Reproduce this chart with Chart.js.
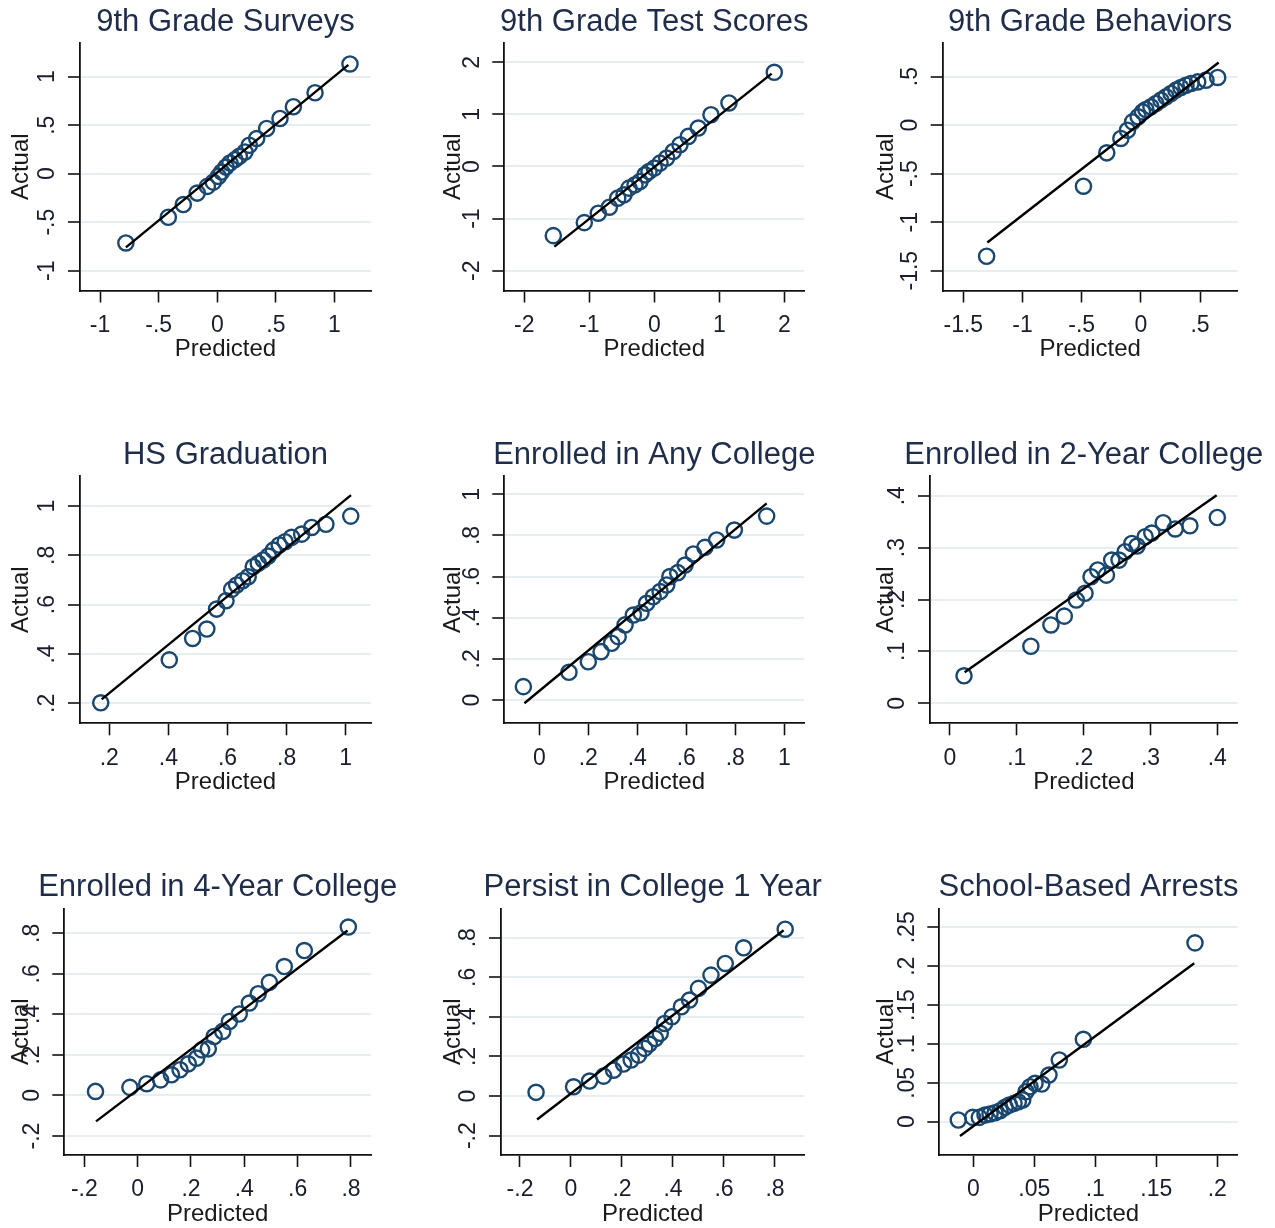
<!DOCTYPE html>
<html>
<head>
<meta charset="utf-8">
<script src="https://cdn.jsdelivr.net/npm/chart.js@4.4.0/dist/chart.umd.min.js"></script>
<style>
html,body{margin:0;padding:0;background:#fff;}
#wrap{position:relative;width:1275px;height:1228px;overflow:hidden;background:#fff;}
#wrap canvas{position:absolute;}
</style>
</head>
<body>
<div id="wrap"></div>
<script>
// ---------------- DATA ----------------
const panelTitles = ["9th Grade Surveys","9th Grade Test Scores","9th Grade Behaviors","HS Graduation","Enrolled in Any College","Enrolled in 2-Year College","Enrolled in 4-Year College","Persist in College 1 Year","School-Based Arrests"];
const xAxisTitle = "Predicted";
const yAxisTitle = "Actual";

// 1. 9th Grade Surveys
const surveysPred = [-0.78,-0.418,-0.29,-0.171,-0.085,-0.034,0.009,0.037,0.074,0.108,0.151,0.188,0.236,0.273,0.336,0.421,0.535,0.649,0.834,1.132];
const surveysActual = [-0.714,-0.449,-0.318,-0.2,-0.131,-0.087,-0.028,0.017,0.068,0.11,0.145,0.179,0.224,0.293,0.362,0.466,0.569,0.69,0.834,1.131];
const surveysFitPred = [-0.78,1.118];
const surveysFitActual = [-0.76,1.121];
const surveysXTicks = [-1,-0.5,0,0.5,1];
const surveysXLabels = ["-1","-.5","0",".5","1"];
const surveysYTicks = [-1,-0.5,0,0.5,1];
const surveysYLabels = ["-1","-.5","0",".5","1"];

// 2. 9th Grade Test Scores
const testPred = [-1.554,-1.077,-0.862,-0.692,-0.563,-0.466,-0.389,-0.297,-0.22,-0.143,-0.082,0,0.088,0.19,0.292,0.395,0.523,0.677,0.872,1.149,1.846];
const testActual = [-1.327,-1.077,-0.896,-0.781,-0.608,-0.544,-0.415,-0.352,-0.288,-0.16,-0.096,-0.031,0.065,0.162,0.288,0.417,0.577,0.738,0.994,1.219,1.808];
const testFitPred = [-1.538,1.806];
const testFitActual = [-1.538,1.783];
const testXTicks = [-2,-1,0,1,2];
const testXLabels = ["-2","-1","0","1","2"];
const testYTicks = [-2,-1,0,1,2];
const testYLabels = ["-2","-1","0","1","2"];

// 3. 9th Grade Behaviors
const behavPred = [-1.303,-0.485,-0.288,-0.169,-0.113,-0.07,-0.023,0.014,0.042,0.085,0.127,0.169,0.212,0.254,0.296,0.338,0.381,0.423,0.48,0.55,0.649];
const behavActual = [-1.351,-0.629,-0.285,-0.137,-0.052,0.034,0.086,0.137,0.162,0.189,0.224,0.258,0.292,0.327,0.361,0.389,0.412,0.43,0.446,0.464,0.492];
const behavFitPred = [-1.297,0.657];
const behavFitActual = [-1.209,0.646];
const behavXTicks = [-1.5,-1,-0.5,0,0.5];
const behavXLabels = ["-1.5","-1","-.5","0",".5"];
const behavYTicks = [-1.5,-1,-0.5,0,0.5];
const behavYLabels = ["-1.5","-1","-.5","0",".5"];

// 4. HS Graduation
const gradPred = [0.171,0.403,0.482,0.53,0.563,0.595,0.614,0.631,0.651,0.67,0.687,0.704,0.721,0.738,0.755,0.775,0.795,0.817,0.851,0.885,0.933,1.017];
const gradActual = [0.202,0.376,0.463,0.501,0.582,0.616,0.662,0.68,0.697,0.713,0.754,0.768,0.781,0.797,0.821,0.842,0.855,0.873,0.886,0.913,0.926,0.959];
const gradFitPred = [0.174,1.018];
const gradFitActual = [0.216,1.044];
const gradXTicks = [0.2,0.4,0.6,0.8,1];
const gradXLabels = [".2",".4",".6",".8","1"];
const gradYTicks = [0.2,0.4,0.6,0.8,1];
const gradYLabels = [".2",".4",".6",".8","1"];

// 5. Enrolled in Any College
const anyPred = [-0.065,0.121,0.2,0.252,0.295,0.322,0.35,0.384,0.415,0.438,0.465,0.493,0.52,0.533,0.565,0.595,0.629,0.676,0.724,0.796,0.928];
const anyActual = [0.065,0.135,0.186,0.235,0.276,0.308,0.365,0.413,0.424,0.47,0.502,0.527,0.559,0.6,0.619,0.656,0.71,0.742,0.778,0.826,0.894];
const anyFitPred = [-0.061,0.928];
const anyFitActual = [-0.016,0.956];
const anyXTicks = [0,0.2,0.4,0.6,0.8,1];
const anyXLabels = ["0",".2",".4",".6",".8","1"];
const anyYTicks = [0,0.2,0.4,0.6,0.8,1];
const anyYLabels = ["0",".2",".4",".6",".8","1"];

// 6. Enrolled in 2-Year College
const twoPred = [0.021,0.121,0.151,0.171,0.189,0.202,0.211,0.221,0.234,0.242,0.253,0.262,0.272,0.28,0.292,0.302,0.319,0.337,0.359,0.4];
const twoActual = [0.053,0.11,0.151,0.168,0.199,0.212,0.244,0.257,0.247,0.276,0.276,0.292,0.308,0.303,0.321,0.328,0.348,0.336,0.342,0.358];
const twoFitPred = [0.022,0.399];
const twoFitActual = [0.06,0.401];
const twoXTicks = [0,0.1,0.2,0.3,0.4];
const twoXLabels = ["0",".1",".2",".3",".4"];
const twoYTicks = [0,0.1,0.2,0.3,0.4];
const twoYLabels = ["0",".1",".2",".3",".4"];

// 7. Enrolled in 4-Year College
const fourPred = [-0.158,-0.029,0.034,0.086,0.127,0.159,0.19,0.221,0.24,0.265,0.287,0.319,0.344,0.381,0.419,0.452,0.494,0.55,0.625,0.79];
const fourActual = [0.02,0.04,0.058,0.077,0.102,0.127,0.156,0.184,0.225,0.23,0.291,0.316,0.365,0.402,0.456,0.502,0.558,0.636,0.715,0.831];
const fourFitPred = [-0.156,0.787];
const fourFitActual = [-0.128,0.814];
const fourXTicks = [-0.2,0,0.2,0.4,0.6,0.8];
const fourXLabels = ["-.2","0",".2",".4",".6",".8"];
const fourYTicks = [-0.2,0,0.2,0.4,0.6,0.8];
const fourYLabels = ["-.2","0",".2",".4",".6",".8"];

// 8. Persist in College 1 Year
const persistPred = [-0.137,0.01,0.073,0.128,0.167,0.206,0.236,0.265,0.289,0.307,0.331,0.35,0.367,0.396,0.433,0.465,0.5,0.549,0.605,0.677,0.84];
const persistActual = [0.019,0.047,0.076,0.101,0.131,0.162,0.182,0.207,0.241,0.263,0.291,0.317,0.367,0.401,0.451,0.485,0.544,0.611,0.67,0.749,0.843];
const persistFitPred = [-0.133,0.834];
const persistFitActual = [-0.118,0.838];
const persistXTicks = [-0.2,0,0.2,0.4,0.6,0.8];
const persistXLabels = ["-.2","0",".2",".4",".6",".8"];
const persistYTicks = [-0.2,0,0.2,0.4,0.6,0.8];
const persistYLabels = ["-.2","0",".2",".4",".6",".8"];

// 9. School-Based Arrests
const arrestPred = [-0.0123,-0.0005,0.0049,0.0096,0.0137,0.0178,0.0219,0.026,0.0295,0.0334,0.0369,0.0405,0.0432,0.0465,0.0506,0.0561,0.062,0.0705,0.0902,0.1817];
const arrestActual = [0.0022,0.0056,0.0056,0.0086,0.0099,0.0116,0.0142,0.0185,0.0215,0.0236,0.0257,0.0279,0.0386,0.045,0.0494,0.0485,0.06,0.0794,0.106,0.23];
const arrestFitPred = [-0.0109,0.1811];
const arrestFitActual = [-0.0184,0.2038];
const arrestXTicks = [0,0.05,0.1,0.15,0.2];
const arrestXLabels = ["0",".05",".1",".15",".2"];
const arrestYTicks = [0,0.05,0.1,0.15,0.2,0.25];
const arrestYLabels = ["0",".05",".1",".15",".2",".25"];

// ---------------- LAYOUT / STYLE ----------------
const FONT = '"Liberation Sans", Arial, Helvetica, sans-serif';
const MARKER = '#1a476f';
const GRID = '#e6eef1';
const TITLE_COLOR = '#1f2d4b';
const TICK_COLOR = '#1a1d2e';
const colX = [0,425,850];
const rowY = [0,430,860];
const cellH = [430,430,368];
const titleY = [22,455,887];
const actualX = [21.7,453,886];

const panels = [
  {title:panelTitles[0], px:surveysPred, py:surveysActual, fx:surveysFitPred, fy:surveysFitActual, xt:surveysXTicks, xl:surveysXLabels, yt:surveysYTicks, yl:surveysYLabels, xr:[-1.1715,1.3114], yr:[-1.204,1.347], box:[80,43,371,290.5]},
  {title:panelTitles[1], px:testPred, py:testActual, fx:testFitPred, fy:testFitActual, xt:testXTicks, xl:testXLabels, yt:testYTicks, yl:testYLabels, xr:[-2.308,2.308], yr:[-2.38,2.37], box:[504.3,43,804.3,290.5]},
  {title:panelTitles[2], px:behavPred, py:behavActual, fx:behavFitPred, fy:behavFitActual, xt:behavXTicks, xl:behavXLabels, yt:behavYTicks, yl:behavYLabels, xr:[-1.674,0.818], yr:[-1.704,0.847], box:[942.7,43,1237.7,290.5]},
  {title:panelTitles[3], px:gradPred, py:gradActual, fx:gradFitPred, fy:gradFitActual, xt:gradXTicks, xl:gradXLabels, yt:gradYTicks, yl:gradYLabels, xr:[0.1008,1.0856], yr:[0.1189,1.1217], box:[80,476,371,723.3]},
  {title:panelTitles[4], px:anyPred, py:anyActual, fx:anyFitPred, fy:anyFitActual, xt:anyXTicks, xl:anyXLabels, yt:anyYTicks, yl:anyYLabels, xr:[-0.1429,1.0816], yr:[-0.1133,1.089], box:[504.3,476,804.3,723.3]},
  {title:panelTitles[5], px:twoPred, py:twoActual, fx:twoFitPred, fy:twoFitActual, xt:twoXTicks, xl:twoXLabels, yt:twoYTicks, yl:twoYLabels, xr:[-0.0299,0.4305], yr:[-0.0385,0.438], box:[930,476,1237.7,723.3]},
  {title:panelTitles[6], px:fourPred, py:fourActual, fx:fourFitPred, fy:fourFitActual, xt:fourXTicks, xl:fourXLabels, yt:fourYTicks, yl:fourYLabels, xr:[-0.275,0.875], yr:[-0.2937,0.9224], box:[64.3,908.5,371,1155]},
  {title:panelTitles[7], px:persistPred, py:persistActual, fx:persistFitPred, fy:persistFitActual, xt:persistXTicks, xl:persistXLabels, yt:persistYTicks, yl:persistYLabels, xr:[-0.2745,0.915], yr:[-0.2975,0.9475], box:[501,908.5,804.3,1155]},
  {title:panelTitles[8], px:arrestPred, py:arrestActual, fx:arrestFitPred, fy:arrestFitActual, xt:arrestXTicks, xl:arrestXLabels, yt:arrestYTicks, yl:arrestYLabels, xr:[-0.02787,0.2167], yr:[-0.0428,0.2742], box:[939.3,908.5,1237.7,1155]}
];

const AXW = 12; // fixed axis box size (tick length)

const stataText = {
  id: 'stataText',
  afterDraw(chart, args, o) {
    const ctx = chart.ctx, ca = chart.chartArea;
    const xs = chart.scales.x, ys = chart.scales.y;
    ctx.save();
    ctx.textAlign = 'center';
    ctx.textBaseline = 'middle';
    // title
    ctx.fillStyle = TITLE_COLOR;
    ctx.font = '31px ' + FONT;
    ctx.fillText(o.title, (ca.left + ca.right) / 2, o.titleY);
    // x tick labels
    ctx.fillStyle = TICK_COLOR;
    ctx.font = '23px ' + FONT;
    o.xt.forEach((v, i) => ctx.fillText(o.xl[i], xs.getPixelForValue(v), ca.bottom + 35));
    // y tick labels (rotated)
    o.yt.forEach((v, i) => {
      ctx.save();
      ctx.translate(ca.left - 32, ys.getPixelForValue(v));
      ctx.rotate(-Math.PI / 2);
      ctx.fillText(o.yl[i], 0, 0);
      ctx.restore();
    });
    // axis titles
    ctx.font = '24px ' + FONT;
    ctx.fillStyle = '#1a1a1a';
    ctx.fillText(xAxisTitle, (ca.left + ca.right) / 2, ca.bottom + 59);
    ctx.save();
    ctx.translate(o.actualX, (ca.top + ca.bottom) / 2);
    ctx.rotate(-Math.PI / 2);
    ctx.fillText(yAxisTitle, 0, 0);
    ctx.restore();
    ctx.restore();
  }
};

const wrap = document.getElementById('wrap');
panels.forEach((p, idx) => {
  const c = idx % 3, r = Math.floor(idx / 3);
  const cx = colX[c], cy = rowY[r], cw = 425, ch = cellH[r];
  const cv = document.createElement('canvas');
  cv.width = cw; cv.height = ch;
  cv.style.left = cx + 'px'; cv.style.top = cy + 'px';
  cv.style.width = cw + 'px'; cv.style.height = ch + 'px';
  wrap.appendChild(cv);
  const [L, T, R, B] = p.box;
  const pad = {
    left: (L - cx) - AXW,
    top: T - cy,
    right: (cx + cw) - R,
    bottom: (cy + ch) - B - AXW
  };
  const pts = p.px.map((x, i) => ({x: x, y: p.py[i]}));
  const fit = p.fx.map((x, i) => ({x: x, y: p.fy[i]}));
  new Chart(cv, {
    type: 'scatter',
    data: {
      datasets: [
        {label: 'Fitted', data: fit, showLine: true, borderColor: '#000', borderWidth: 2.4, pointRadius: 0, fill: false, clip: false, order: 0},
        {label: 'Binned', data: pts, showLine: false, pointStyle: 'circle', pointRadius: 7.6, borderWidth: 2.4, borderColor: MARKER, backgroundColor: 'rgba(0,0,0,0)', clip: false, order: 1}
      ]
    },
    options: {
      responsive: false,
      animation: false,
      events: [],
      devicePixelRatio: 1,
      layout: {padding: pad},
      plugins: {
        legend: {display: false},
        tooltip: {enabled: false},
        title: {display: false},
        stataText: {title: p.title, titleY: titleY[r] - cy, xt: p.xt, xl: p.xl, yt: p.yt, yl: p.yl, actualX: actualX[c] - cx}
      },
      scales: {
        x: {
          type: 'linear', min: p.xr[0], max: p.xr[1],
          afterBuildTicks: (s) => { s.ticks = p.xt.map(v => ({value: v})); },
          afterFit: (s) => { s.height = AXW; },
          ticks: {display: false},
          grid: {display: true, drawOnChartArea: false, drawTicks: true, tickLength: 12, tickColor: '#111', tickWidth: 1.6},
          border: {display: true, color: '#111', width: 1.8}
        },
        y: {
          type: 'linear', min: p.yr[0], max: p.yr[1],
          afterBuildTicks: (s) => { s.ticks = p.yt.map(v => ({value: v})); },
          afterFit: (s) => { s.width = AXW; },
          ticks: {display: false},
          grid: {display: true, drawOnChartArea: true, color: GRID, lineWidth: 2, drawTicks: true, tickLength: 12, tickColor: '#111', tickWidth: 1.6},
          border: {display: true, color: '#111', width: 1.8}
        }
      }
    },
    plugins: [stataText]
  });
});
</script>
</body>
</html>
